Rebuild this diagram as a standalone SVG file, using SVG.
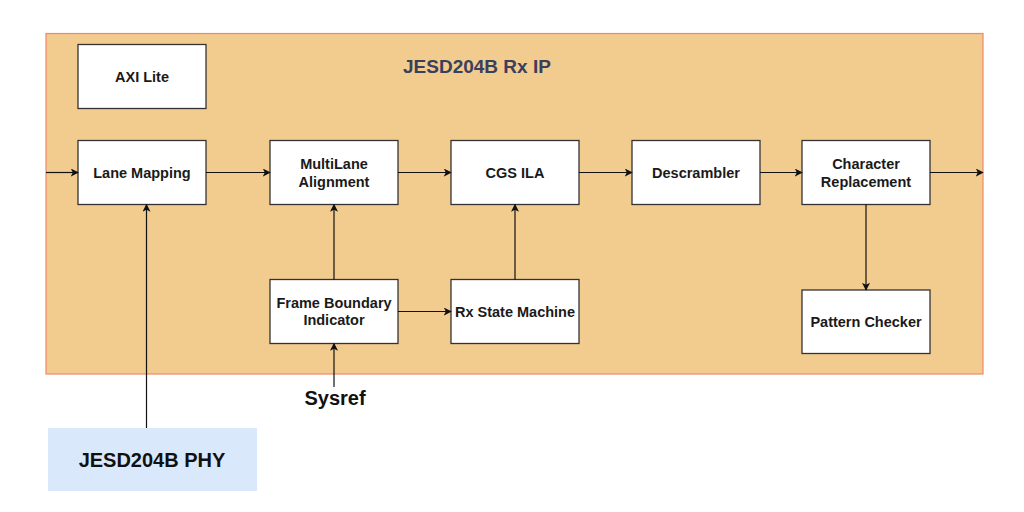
<svg xmlns="http://www.w3.org/2000/svg" width="1024" height="512" viewBox="0 0 1024 512">
<style>
.box{fill:#fff;stroke:#333;stroke-width:1.3}
.lbl{font-family:"Liberation Sans",Arial,sans-serif;font-weight:bold;font-size:14.5px;fill:#1a1a1a;text-anchor:middle}
.big{font-family:"Liberation Sans",Arial,sans-serif;font-weight:bold;font-size:20px;fill:#111;text-anchor:middle}
.con{stroke:#111;stroke-width:1.2;fill:none;marker-end:url(#ah)}
</style>
<defs>
<marker id="ah" viewBox="0 0 10 10" refX="9" refY="5" markerWidth="8" markerHeight="8" markerUnits="userSpaceOnUse" orient="auto">
<path d="M0,0 L10,5 L0,10 L2.5,5 Z" fill="#111"/>
</marker>
</defs>
<rect width="1024" height="512" fill="#fff"/>
<g id="container">
<rect x="46" y="33.5" width="937" height="340.5" fill="#f2cb8f" stroke="#f0876c" stroke-width="1.2"/>
<text x="403" y="73" font-family="'Liberation Sans',Arial,sans-serif" font-weight="bold" font-size="19px" fill="#3a3f5c">JESD204B Rx IP</text>
</g>
<g id="axi"><rect class="box" x="78" y="44.5" width="128" height="64"/><text class="lbl" x="142" y="81.5">AXI Lite</text></g>
<g id="lane"><rect class="box" x="78" y="140.5" width="128" height="64"/><text class="lbl" x="142" y="177.5">Lane Mapping</text></g>
<g id="mla"><rect class="box" x="270" y="140.5" width="128" height="64"/><text class="lbl" x="334" y="169">MultiLane</text><text class="lbl" x="334" y="187">Alignment</text></g>
<g id="cgs"><rect class="box" x="451" y="140.5" width="128" height="64"/><text class="lbl" x="515" y="177.5">CGS ILA</text></g>
<g id="desc"><rect class="box" x="632" y="140.5" width="128" height="64"/><text class="lbl" x="696" y="177.5">Descrambler</text></g>
<g id="charrep"><rect class="box" x="802" y="140.5" width="128" height="64"/><text class="lbl" x="866" y="169">Character</text><text class="lbl" x="866" y="187">Replacement</text></g>
<g id="fbi"><rect class="box" x="270" y="279.5" width="128" height="64"/><text class="lbl" x="334" y="308">Frame Boundary</text><text class="lbl" x="334" y="325">Indicator</text></g>
<g id="rxsm"><rect class="box" x="451" y="279.5" width="128" height="64"/><text class="lbl" x="515" y="316.5">Rx State Machine</text></g>
<g id="pchk"><rect class="box" x="802" y="290" width="128" height="63.5"/><text class="lbl" x="866" y="327">Pattern Checker</text></g>
<g id="sysref"><text class="big" x="335" y="405">Sysref</text></g>
<g id="phy"><rect x="48" y="428" width="209" height="63" fill="#dae8fc"/><text class="big" x="152" y="467">JESD204B PHY</text></g>
<g id="connectors">
<path class="con" d="M46,172.5 H78"/>
<path class="con" d="M206,172.5 H270"/>
<path class="con" d="M398,172.5 H451"/>
<path class="con" d="M579,172.5 H632"/>
<path class="con" d="M760,172.5 H802"/>
<path class="con" d="M930,172.5 H983"/>
<path class="con" d="M866,204.5 V290"/>
<path class="con" d="M334,279.5 V204.5"/>
<path class="con" d="M515,279.5 V204.5"/>
<path class="con" d="M398,311.5 H451"/>
<path class="con" d="M334,387 V343.5"/>
<path class="con" d="M146.5,428 V204.5"/>
</g>
</svg>
